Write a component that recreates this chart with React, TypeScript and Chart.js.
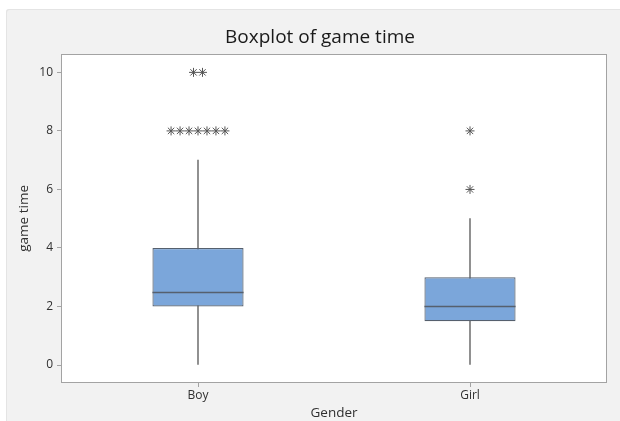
import { useEffect, useRef } from 'react';
import { Chart, registerables } from 'chart.js';

Chart.register(...registerables);

// ---- data ----
const categories = ['Boy', 'Girl'];
const q1 = [2, 1.5];
const median = [2.5, 2];
const q3 = [4, 3];
const whiskerLow = [0, 0];
const whiskerHigh = [7, 5];
const boyOutliers = [8, 8, 8, 8, 8, 8, 8, 10, 10];
const girlOutliers = [6, 8];
const yTicks = [0, 2, 4, 6, 8, 10];

const titleText = 'Boxplot of game time';
const xTitle = 'Gender';
const yTitle = 'game time';

const FONT = "'Open Sans', 'Noto Sans', sans-serif";
const BOX_FILL = '#7ba6da';
const BOX_EDGE = '#56606e';
const WHISKER = '#7a7a7a';
const STAR = '#555555';
const FRAME = '#a3a3a3';

// spread identical outlier values sideways like the original
function spread(values: number[], idx: number, step: number) {
  const counts = new Map<number, number>();
  values.forEach((v) => counts.set(v, (counts.get(v) || 0) + 1));
  const seen = new Map<number, number>();
  return values.map((v) => {
    const n = counts.get(v) as number;
    const i = seen.get(v) || 0;
    seen.set(v, i + 1);
    return { x: idx + (i - (n - 1) / 2) * step, y: v };
  });
}

const framePlugin = {
  id: 'frame',
  beforeDraw(chart: any) {
    const { ctx, chartArea } = chart;
    const { left, top, right, bottom } = chartArea;
    ctx.save();
    ctx.fillStyle = '#ffffff';
    ctx.fillRect(left, top, right - left, bottom - top);
    ctx.restore();
  },
  afterDatasetsDraw(chart: any) {
    // median lines, positioned through the y scale and the box elements
    const { ctx } = chart;
    const meta = chart.getDatasetMeta(1);
    const yScale = chart.scales.y;
    ctx.save();
    ctx.strokeStyle = BOX_EDGE;
    ctx.lineWidth = 1.4;
    meta.data.forEach((el: any, i: number) => {
      const y = Math.round(yScale.getPixelForValue(median[i])) + 0.5;
      ctx.beginPath();
      ctx.moveTo(el.x - el.width / 2, y);
      ctx.lineTo(el.x + el.width / 2, y);
      ctx.stroke();
    });
    ctx.restore();
  },
  afterDraw(chart: any) {
    const { ctx, chartArea } = chart;
    const l = Math.round(chartArea.left) - 0.5;
    const t = Math.round(chartArea.top) - 0.5;
    const r = Math.round(chartArea.right) + 0.5;
    const b = Math.round(chartArea.bottom) + 0.5;
    ctx.save();
    ctx.strokeStyle = FRAME;
    ctx.lineWidth = 1;
    ctx.strokeRect(l, t, r - l, b - t);
    ctx.restore();
  },
};

export default function App() {
  const ref = useRef<HTMLCanvasElement | null>(null);

  useEffect(() => {
    if (!ref.current) return;
    const outliers = [...spread(boyOutliers, 0, 0.033), ...spread(girlOutliers, 1, 0.033)];
    const chart = new Chart(ref.current, {
      type: 'bar',
      data: {
        labels: categories,
        datasets: [
          {
            type: 'scatter',
            data: outliers,
            xAxisID: 'xo',
            yAxisID: 'y',
            pointStyle: 'star',
            pointRadius: 4.5,
            pointBorderWidth: 1,
            borderColor: STAR,
            backgroundColor: STAR,
            order: 0,
          } as any,
          {
            data: categories.map((_, i) => [q1[i], q3[i]]),
            backgroundColor: BOX_FILL,
            borderColor: BOX_EDGE,
            borderWidth: 1.2,
            borderSkipped: false,
            grouped: false,
            barPercentage: 0.335,
            categoryPercentage: 1,
            order: 1,
          } as any,
          {
            data: categories.map((_, i) => [whiskerLow[i], whiskerHigh[i]]),
            backgroundColor: WHISKER,
            borderWidth: 0,
            barThickness: 1,
            grouped: false,
            order: 3,
          } as any,
        ],
      },
      options: {
        animation: false,
        responsive: false,
        layout: { padding: { left: 14, right: 0, top: 0, bottom: 0 } },
        plugins: {
          legend: { display: false },
          tooltip: { enabled: false },
          title: {
            display: true,
            text: titleText,
            color: '#1a1a1a',
            font: { family: FONT, size: 19, weight: 'normal' },
            padding: { top: 17, bottom: 6 },
          },
        },
        scales: {
          x: {
            type: 'category',
            offset: true,
            grid: { display: true, offset: false, drawOnChartArea: false, tickLength: 5, color: FRAME },
            border: { display: false },
            ticks: { color: '#303030', font: { family: FONT, size: 12 }, padding: 1 },
            title: {
              display: true,
              text: xTitle,
              color: '#303030',
              font: { family: FONT, size: 13.5 },
              padding: { top: 0, bottom: 0 },
            },
            afterFit: (s: any) => {
              s.height = 39;
            },
          },
          xo: {
            type: 'linear',
            min: -0.5,
            max: 1.5,
            offset: false,
            display: false,
          },
          y: {
            type: 'linear',
            min: -0.58,
            max: 10.6,
            afterBuildTicks: (s: any) => {
              s.ticks = yTicks.map((v) => ({ value: v }));
            },
            grid: { display: true, drawOnChartArea: false, tickLength: 5, color: FRAME },
            border: { display: false },
            ticks: { color: '#303030', font: { family: FONT, size: 12 }, padding: 4 },
            title: {
              display: true,
              text: yTitle,
              color: '#303030',
              font: { family: FONT, size: 13.5 },
              padding: { top: -4, bottom: 0 },
            },
            afterFit: (s: any) => {
              s.width = 42;
            },
          },
          yr: {
            type: 'linear',
            position: 'right',
            display: true,
            grid: { display: false, drawTicks: false },
            border: { display: false },
            ticks: { display: false },
            afterFit: (s: any) => {
              s.width = 14;
            },
          },
        },
      } as any,
      plugins: [framePlugin],
    });
    return () => chart.destroy();
  }, []);

  return (
    <div style={{ position: 'fixed', left: 0, top: 0, width: 620, height: 421, background: '#ffffff', overflow: 'hidden' }}>
      <div
        style={{
          position: 'absolute',
          left: 6,
          top: 9,
          width: 614,
          height: 412,
          background: '#f2f2f2',
          boxShadow: 'inset 1px 1px 0 #e4e4e4',
          borderTopLeftRadius: 3,
        }}
      >
        <canvas ref={ref} width={614} height={412} style={{ position: 'absolute', left: 0, top: 0, width: 614, height: 412 }} />
      </div>
    </div>
  );
}
